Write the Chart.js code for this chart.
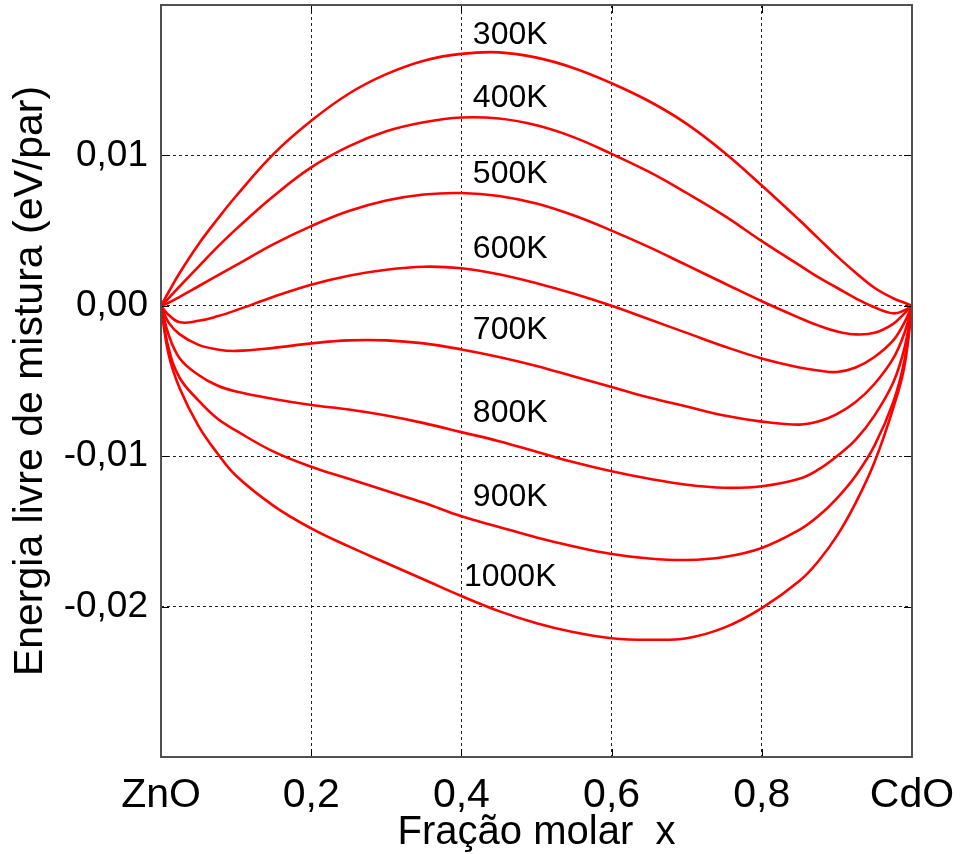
<!DOCTYPE html>
<html>
<head>
<meta charset="utf-8">
<title>Energia livre de mistura</title>
<script src="https://cdn.jsdelivr.net/npm/chart.js@4.4.0/dist/chart.umd.min.js"></script>
<style>
  html, body { margin: 0; padding: 0; background: #fff; }
  canvas { display: block; }
</style>
</head>
<body>
<canvas id="mixChart" width="960" height="854"></canvas>
<script>
// fração molar x (0 = ZnO, 1 = CdO)
const xs = [0, 0.01, 0.025, 0.05, 0.075, 0.1, 0.15, 0.2, 0.25, 0.3, 0.35, 0.4, 0.45, 0.5,
            0.55, 0.6, 0.65, 0.7, 0.75, 0.8, 0.85, 0.875, 0.9, 0.925, 0.95, 0.975, 0.99, 1];

// energia livre de mistura (eV/par)
const g300  = [0, 0.0009, 0.0022, 0.0041, 0.00575, 0.0073, 0.0101, 0.0123, 0.0141, 0.0154, 0.0163, 0.01675, 0.01685, 0.0165,
               0.0158, 0.0148, 0.0136, 0.0121, 0.0102, 0.0080, 0.0057, 0.0045, 0.0033, 0.0022, 0.0012, 0.0005, 0.0002, 0];
const g400  = [0, 0.0005, 0.0013, 0.0026, 0.0039, 0.0051, 0.0073, 0.0092, 0.0106, 0.0116, 0.0122, 0.01252, 0.01245, 0.0120,
               0.0112, 0.0101, 0.0089, 0.0075, 0.0060, 0.0043, 0.0027, 0.0019, 0.0012, 0.0005, -0.0001, -0.0005, -0.0003, 0];
const g500  = [0, 0.0002, 0.0006, 0.0013, 0.0020, 0.0027, 0.0041, 0.0053, 0.0063, 0.0070, 0.0074, 0.0075, 0.0073, 0.0068,
               0.0060, 0.0050, 0.0039, 0.0027, 0.0015, 0.0003, -0.0008, -0.0013, -0.0017, -0.0019, -0.0018, -0.0012, -0.0005, 0];
const g600  = [0, -0.0006, -0.0011, -0.0010, -0.0007, -0.0003, 0.0006, 0.0014, 0.0020, 0.0024, 0.0026, 0.0025, 0.0021, 0.0015,
               0.0008, 0.0000, -0.0009, -0.0018, -0.0027, -0.0035, -0.0041, -0.0043, -0.0044, -0.0041, -0.0034, -0.0023, -0.0011, 0];
const g700  = [0, -0.0011, -0.0019, -0.0026, -0.0029, -0.0030, -0.0028, -0.0025, -0.0023, -0.0023, -0.0025, -0.0029, -0.0034, -0.0040,
               -0.0047, -0.0054, -0.0061, -0.0067, -0.0073, -0.0077, -0.0079, -0.0077, -0.0072, -0.0064, -0.0052, -0.0035, -0.0018, 0];
const g800  = [0, -0.0019, -0.0035, -0.0046, -0.0053, -0.0057, -0.0062, -0.0066, -0.0069, -0.0073, -0.0078, -0.0084, -0.0090, -0.0097,
               -0.0104, -0.0110, -0.0115, -0.0119, -0.0121, -0.0120, -0.0115, -0.0109, -0.0100, -0.0089, -0.0073, -0.0051, -0.0028, 0];
const g900  = [0, -0.0028, -0.0048, -0.0063, -0.0075, -0.0083, -0.0097, -0.0107, -0.0115, -0.0123, -0.0131, -0.0140, -0.0147, -0.0154,
               -0.0160, -0.0165, -0.0168, -0.0169, -0.0167, -0.0161, -0.0149, -0.0140, -0.0128, -0.0113, -0.0093, -0.0064, -0.0036, 0];
const g1000 = [0, -0.0032, -0.0055, -0.0080, -0.0098, -0.0113, -0.0133, -0.0148, -0.0160, -0.0171, -0.0182, -0.0193, -0.0203, -0.0211,
               -0.0217, -0.0221, -0.0222, -0.0221, -0.0214, -0.0201, -0.0183, -0.0170, -0.0153, -0.0131, -0.0104, -0.0068, -0.0040, 0];

const tempLabels = ['300K', '400K', '500K', '600K', '700K', '800K', '900K', '1000K'];
const series = [g300, g400, g500, g600, g700, g800, g900, g1000];

const plainFont = '"Liberation Sans", Arial, sans-serif';

// caixa do gráfico com marcas internas, como no MATLAB
const framePlugin = {
    id: 'frame',
    afterDraw(chart) {
        const { ctx, chartArea: a, scales: { x, y } } = chart;
        ctx.save();
        ctx.setLineDash([]);
        ctx.strokeStyle = '#000';
        ctx.lineWidth = 1;
        ctx.beginPath();
        x.ticks.forEach(t => {
            const px = Math.round(x.getPixelForValue(t.value)) + 0.5;
            ctx.moveTo(px, a.bottom); ctx.lineTo(px, a.bottom - 8);
            ctx.moveTo(px, a.top); ctx.lineTo(px, a.top + 8);
        });
        y.ticks.forEach(t => {
            const py = Math.round(y.getPixelForValue(t.value)) + 0.5;
            ctx.moveTo(a.left, py); ctx.lineTo(a.left + 8, py);
            ctx.moveTo(a.right, py); ctx.lineTo(a.right - 8, py);
        });
        ctx.stroke();
        ctx.strokeStyle = '#505050';
        ctx.lineWidth = 2;
        ctx.strokeRect(a.left, a.top, a.right - a.left, a.bottom - a.top);
        ctx.restore();
    }
};

// rótulos das temperaturas, acima de cada curva
const tempLabelPlugin = {
    id: 'tempLabels',
    afterDatasetsDraw(chart) {
        const { ctx, scales: { x, y } } = chart;
        const idx = xs.indexOf(0.4);
        ctx.save();
        ctx.font = '32px ' + plainFont;
        ctx.fillStyle = '#000';
        ctx.textAlign = 'center';
        ctx.textBaseline = 'middle';
        series.forEach((s, i) => {
            const px = x.getPixelForValue(0.465);
            const py = y.getPixelForValue(s[idx]) - 19;
            ctx.fillText(tempLabels[i], px, py);
        });
        ctx.restore();
    }
};

const ctx = document.getElementById('mixChart').getContext('2d');
const mixChart = new Chart(ctx, {
    type: 'line',
    data: {
        datasets: series.map((s, i) => ({
            label: tempLabels[i],
            data: xs.map((x, j) => ({ x: x, y: s[j] })),
            borderColor: '#ff0000',
            borderWidth: 2.6,
            pointRadius: 0,
            fill: false,
            tension: 0.4
        }))
    },
    options: {
        responsive: false,
        devicePixelRatio: 1,
        animation: false,
        events: [],
        layout: {
            padding: { top: 5, right: 48, bottom: 0, left: 0 }
        },
        scales: {
            x: {
                type: 'linear',
                min: 0,
                max: 1,
                ticks: {
                    stepSize: 0.2,
                    autoSkip: false,
                    maxRotation: 0,
                    padding: 14,
                    color: '#000',
                    font: { family: plainFont, size: 41 },
                    callback: function (value) {
                        const k = Math.round(value * 10);
                        if (k === 0) return 'ZnO';
                        if (k === 10) return 'CdO';
                        return '0,' + k;
                    }
                },
                grid: { color: '#222', lineWidth: 1, drawTicks: false },
                border: { display: false, dash: [3, 3] },
                title: {
                    display: true,
                    text: 'Fração molar  x',
                    color: '#000',
                    font: { family: plainFont, size: 40, lineHeight: 1.0 },
                    padding: { top: 0, bottom: 1 }
                },
                afterFit: function (scale) {
                    scale.height = 97;
                    scale.paddingLeft = 0;
                    scale.paddingRight = 0;
                }
            },
            y: {
                type: 'linear',
                min: -0.03,
                max: 0.02,
                ticks: {
                    stepSize: 0.01,
                    autoSkip: false,
                    padding: 13,
                    color: '#000',
                    font: { family: plainFont, size: 37 },
                    callback: function (value) {
                        const k = Math.round(value * 100);
                        if (k > 1 || k < -2) return '';
                        return (k < 0 ? '-' : '') + '0,0' + Math.abs(k);
                    }
                },
                grid: { color: '#222', lineWidth: 1, drawTicks: false },
                border: { display: false, dash: [3, 3] },
                title: {
                    display: true,
                    text: 'Energia livre de mistura (eV/par)',
                    color: '#000',
                    font: { family: plainFont, size: 41 },
                    padding: { top: 6, bottom: 0 }
                },
                afterFit: function (scale) {
                    scale.width = 161;
                    scale.paddingTop = 0;
                    scale.paddingBottom = 0;
                }
            }
        },
        plugins: {
            legend: { display: false },
            tooltip: { enabled: false }
        }
    },
    plugins: [tempLabelPlugin, framePlugin]
});
</script>
</body>
</html>
